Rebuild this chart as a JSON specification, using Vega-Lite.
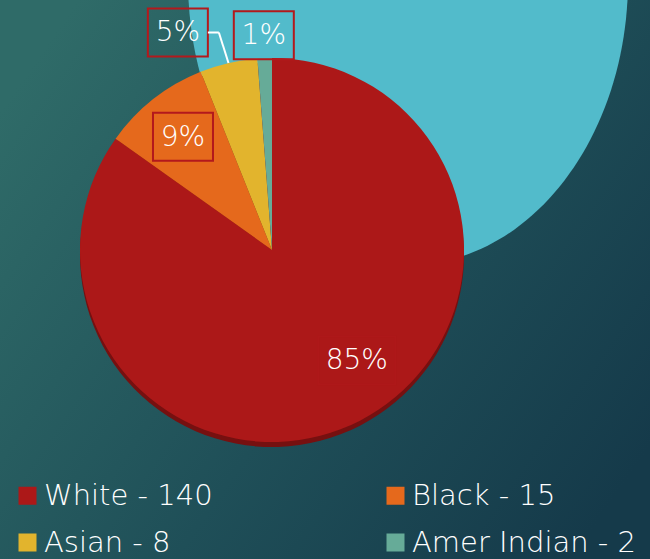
{
  "$schema": "https://vega.github.io/schema/vega-lite/v6.json",
  "width": 650,
  "height": 559,
  "autosize": {"type": "none"},
  "padding": 0,
  "background": "#235659",
  "config": {
    "view": {
      "stroke": null,
      "fill": {"gradient": "linear", "x1": 0, "y1": 0.2, "x2": 1, "y2": 0.8,
        "stops": [{"offset": 0, "color": "#2f6b68"}, {"offset": 0.55, "color": "#1f4f58"}, {"offset": 1, "color": "#153a4a"}]}
    }
  },
  "data": {"values": [
    {"race": "White", "count": 140, "legend": "White - 140", "pct": "85%"},
    {"race": "Black", "count": 15, "legend": "Black - 15", "pct": "9%"},
    {"race": "Asian", "count": 8, "legend": "Asian - 8", "pct": "5%"},
    {"race": "Amer Indian", "count": 2, "legend": "Amer Indian - 2", "pct": "1%"}
  ]},
  "layer": [
    {
      "data": {"values": [{"decor": "backdrop"}]},
      "mark": {"type": "point", "shape": "M-0.772,0A0.772,1,0,1,1,0.772,0A0.772,1,0,1,1,-0.772,0Z", "filled": true, "fill": "#52bbcb", "opacity": 1, "size": 324900, "strokeWidth": 0},
      "encoding": {
        "x": {"datum": 136, "type": "quantitative", "scale": {"domain": [-272, 378], "nice": false, "zero": false}, "axis": null},
        "y": {"datum": 270, "type": "quantitative", "scale": {"domain": [-309, 250], "nice": false, "zero": false}, "axis": null}
      }
    },
    {
      "mark": {"type": "arc", "outerRadius": 192, "fill": "#761010"},
      "encoding": {
        "theta": {"field": "count", "type": "quantitative", "stack": true},
        "order": {"field": "count", "sort": "descending"},
        "x": {"datum": 0, "type": "quantitative"},
        "y": {"datum": -5, "type": "quantitative"}
      }
    },
    {
      "mark": {"type": "arc", "outerRadius": 192, "strokeWidth": 0},
      "encoding": {
        "theta": {"field": "count", "type": "quantitative", "stack": true},
        "order": {"field": "count", "sort": "descending"},
        "x": {"datum": 0, "type": "quantitative"},
        "y": {"datum": 0, "type": "quantitative"},
        "color": {
          "field": "legend", "type": "nominal",
          "scale": {"domain": ["White - 140", "Asian - 8", "Black - 15", "Amer Indian - 2"], "range": ["#ac1818", "#e2b42d", "#e5691c", "#66ab98"]},
          "legend": {"orient": "none", "legendX": 13, "legendY": 481, "title": null, "columns": 2, "columnPadding": 168, "rowPadding": 17, "symbolType": "square", "symbolSize": 324, "symbolStrokeWidth": 0, "labelFontSize": 29, "labelColor": "#ffffff", "labelFont": "DejaVu Sans", "labelFontWeight": 200, "labelLimit": 400, "labelOffset": 2, "padding": 0}
        }
      }
    },
    {
      "transform": [
        {"joinaggregate": [{"op": "sum", "field": "count", "as": "total"}]},
        {"window": [{"op": "sum", "field": "count", "as": "cum"}], "sort": [{"field": "count", "order": "descending"}]},
        {"calculate": "2*PI*(datum.cum - datum.count/2)/datum.total", "as": "mid"},
        {"calculate": "datum.mid + ((datum.race === 'White' || datum.race === 'Asian') ? -0.18 : 0)", "as": "ang"},
        {"calculate": "datum.race === 'White' ? 139 : datum.race === 'Black' ? 144 : datum.race === 'Asian' ? 237 : 215", "as": "r"},
        {"calculate": "datum.r * sin(datum.ang)", "as": "lx"},
        {"calculate": "datum.r * cos(datum.ang)", "as": "ly"},
        {"calculate": "datum.race === 'White' ? 38.5 : 30", "as": "hw"},
        {"calculate": "datum.lx - datum.hw", "as": "bx1"},
        {"calculate": "datum.lx + datum.hw", "as": "bx2"},
        {"calculate": "datum.ly + 24", "as": "by1"},
        {"calculate": "datum.ly - 24", "as": "by2"},
        {"calculate": "192 * sin(datum.mid)", "as": "ex"},
        {"calculate": "192 * cos(datum.mid)", "as": "ey"},
        {"calculate": "datum.bx2 + 11", "as": "kx"}
      ],
      "layer": [
        {
          "mark": {"type": "rect", "fill": null, "fillOpacity": 0, "stroke": "#b3191c", "strokeWidth": 2},
          "encoding": {
            "x": {"field": "bx1", "type": "quantitative"},
            "x2": {"field": "bx2"},
            "y": {"field": "by1", "type": "quantitative"},
            "y2": {"field": "by2"},
            "strokeOpacity": {"condition": {"test": "datum.race === 'White'", "value": 0.25}, "value": 1}
          }
        },
        {
          "transform": [{"filter": "datum.race === 'Asian'"}],
          "mark": {"type": "rule", "stroke": "#ffffff", "strokeWidth": 2},
          "encoding": {
            "x": {"field": "bx2", "type": "quantitative"},
            "x2": {"field": "kx"},
            "y": {"field": "ly", "type": "quantitative"},
            "y2": {"field": "ly"}
          }
        },
        {
          "transform": [{"filter": "datum.race === 'Asian'"}],
          "mark": {"type": "rule", "stroke": "#ffffff", "strokeWidth": 2},
          "encoding": {
            "x": {"field": "kx", "type": "quantitative"},
            "x2": {"field": "ex"},
            "y": {"field": "ly", "type": "quantitative"},
            "y2": {"field": "ey"}
          }
        },
        {
          "mark": {"type": "text", "fontSize": 28, "font": "DejaVu Sans", "fontWeight": 200, "fill": "#ffffff", "align": "center", "baseline": "middle", "dy": 1},
          "encoding": {
            "x": {"field": "lx", "type": "quantitative"},
            "y": {"field": "ly", "type": "quantitative"},
            "text": {"field": "pct"}
          }
        }
      ]
    }
  ]
}
